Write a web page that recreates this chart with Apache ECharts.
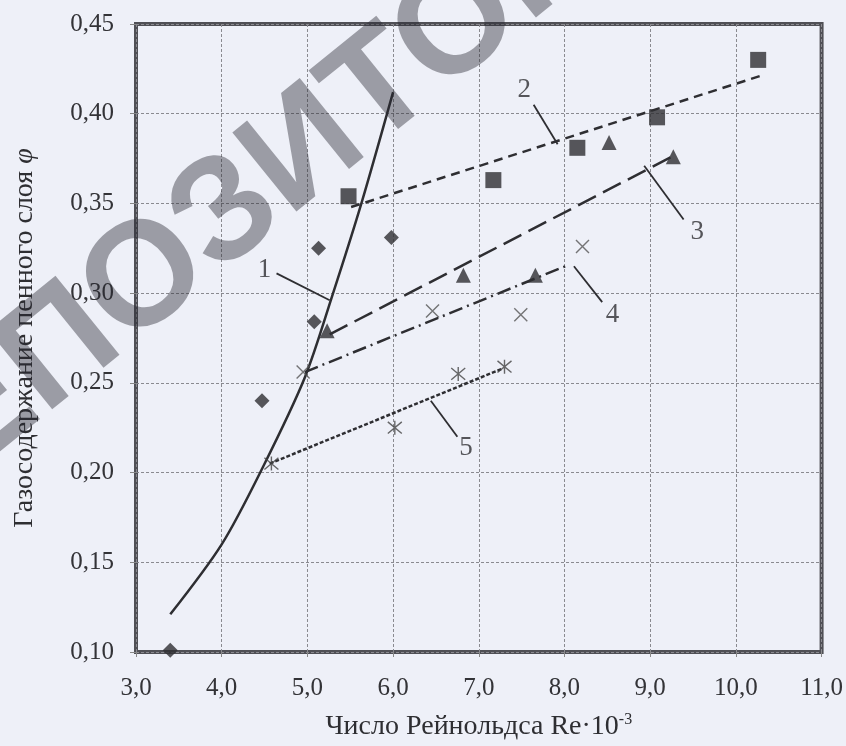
<!DOCTYPE html>
<html>
<head>
<meta charset="utf-8">
<script src="https://cdn.jsdelivr.net/npm/echarts@6/dist/echarts.min.js"></script>
<style>
  html, body { margin: 0; padding: 0; background: #eef0f8; }
  #chart { width: 846px; height: 746px; }
</style>
</head>
<body>
<div id="chart"></div>
<script>
// Re*10^-3 and phi
var diamonds = [[3.40, 0.101], [4.47, 0.240], [5.08, 0.284], [5.13, 0.325], [5.98, 0.331]];
var squares = [[5.48, 0.354], [7.17, 0.363], [8.15, 0.381], [9.08, 0.398], [10.26, 0.430]];
var triangles = [[5.23, 0.279], [6.82, 0.310], [7.66, 0.310], [8.52, 0.384], [9.27, 0.376]];
var crosses = [[4.95, 0.256], [6.46, 0.290], [7.49, 0.288], [8.21, 0.326]];
var stars = [[4.58, 0.205], [6.02, 0.225], [6.76, 0.255], [7.30, 0.259]];

// fitted curves
var curve1 = [[3.40, 0.121], [4.00, 0.160], [4.48, 0.203], [4.97, 0.253], [5.30, 0.300], [5.63, 0.350], [6.00, 0.412]];
var line2 = [[5.51, 0.348], [10.28, 0.421]];
var line3 = [[5.26, 0.277], [9.25, 0.376]];
var line4 = [[4.97, 0.256], [8.01, 0.315]];
var line5 = [[4.56, 0.205], [7.28, 0.258]];

// callouts: label, text position, leader start, leader end
var callouts = [
  ['1', [4.50, 0.313], [4.64, 0.311], [5.26, 0.296]],
  ['2', [7.53, 0.413], [7.64, 0.405], [7.92, 0.383]],
  ['3', [9.55, 0.334], [9.39, 0.341], [8.93, 0.371]],
  ['4', [8.56, 0.288], [8.44, 0.295], [8.11, 0.315]],
  ['5', [6.85, 0.214], [6.75, 0.220], [6.44, 0.240]]
];

var xTicks = [3, 11, 1];
var yTicks = [0.10, 0.45, 0.05];

var ink = '#2e2e32';
var serif = '"Liberation Serif", "DejaVu Serif", serif';

var chart = echarts.init(document.getElementById('chart'));

function fitLine(data, dash) {
  return {
    type: 'line', data: data, symbol: 'none', z: 3,
    lineStyle: { color: ink, width: 2.5, type: dash }
  };
}

var series = [
  { type: 'line', data: curve1, symbol: 'none', smooth: 0.3, z: 3,
    lineStyle: { color: ink, width: 2.5 } },
  fitLine(line2, [9, 6]),
  fitLine(line3, [20, 8]),
  fitLine(line4, [14, 5, 2, 5]),
  fitLine(line5, [4, 2]),
  { type: 'scatter', data: diamonds, symbol: 'diamond', symbolSize: 15, z: 4,
    itemStyle: { color: ink } },
  { type: 'scatter', data: squares, symbol: 'rect', symbolSize: 16, z: 4,
    itemStyle: { color: ink } },
  { type: 'scatter', data: triangles, symbol: 'triangle', symbolSize: 15, z: 4,
    itemStyle: { color: ink } },
  { type: 'scatter', data: crosses, symbol: 'path://M0,0L10,10M10,0L0,10', symbolSize: 13, z: 4,
    itemStyle: { color: 'none', borderColor: '#555', borderWidth: 1.4 } },
  { type: 'scatter', data: stars, symbol: 'path://M0,0L10,10M10,0L0,10M5,-1L5,11', symbolSize: 14, z: 4,
    itemStyle: { color: 'none', borderColor: '#444', borderWidth: 1.4 } }
];

callouts.forEach(function (c) {
  series.push({
    type: 'line', data: [c[2], c[3]], symbol: 'none', z: 3,
    lineStyle: { color: ink, width: 1.8 }
  });
  series.push({
    type: 'scatter', data: [c[1]], symbolSize: 0, z: 5,
    label: { show: true, position: 'inside', formatter: c[0],
      fontFamily: serif, fontSize: 27, color: ink }
  });
});

function comma(v, d) { return v.toFixed(d).replace('.', ','); }

var option = {
  backgroundColor: '#eef0f8',
  animation: false,
  grid: { left: 136, right: 23, top: 24, bottom: 91,
    show: true, borderColor: '#505056', borderWidth: 4 },
  xAxis: {
    type: 'value', min: xTicks[0], max: xTicks[1], interval: xTicks[2],
    name: 'Число Рейнольдса Re·10{sup|-3}',
    nameLocation: 'middle', nameGap: 60,
    nameTextStyle: { fontFamily: serif, fontSize: 28, color: ink,
      rich: { sup: { fontFamily: serif, fontSize: 16, color: ink, verticalAlign: 'top', padding: [0, 0, 14, 0] } } },
    axisLine: { show: false },
    axisTick: { show: true, length: 5, lineStyle: { color: '#888' } },
    axisLabel: { margin: 24, fontFamily: serif, fontSize: 25, color: '#333337',
      formatter: function (v) { return comma(v, 1); } },
    splitLine: { show: true, lineStyle: { color: '#8a8a90', width: 1, type: [3, 2] } }
  },
  yAxis: {
    type: 'value', min: yTicks[0], max: yTicks[1], interval: yTicks[2],
    name: 'Газосодержание пенного слоя {i|φ}',
    nameLocation: 'middle', nameGap: 97, nameRotate: 90,
    nameTextStyle: { fontFamily: serif, fontSize: 28, color: ink,
      rich: { i: { fontFamily: serif, fontSize: 28, color: ink, fontStyle: 'italic' } } },
    axisLine: { show: false },
    axisTick: { show: true, length: 6, lineStyle: { color: '#888' } },
    axisLabel: { margin: 22, fontFamily: serif, fontSize: 25, color: '#333337',
      formatter: function (v) { return comma(v, 2); } },
    splitLine: { show: true, lineStyle: { color: '#8a8a90', width: 1, type: [3, 2] } }
  },
  graphic: [{
    type: 'text', x: 305, y: 152, rotation: 39 * Math.PI / 180, z: 100,
    style: { text: 'РЕПОЗИТОРИЙ', fontFamily: '"Liberation Sans", Arial, sans-serif',
      fontSize: 148, fontWeight: 'bold', fill: 'rgba(40,40,50,0.42)',
      align: 'center', verticalAlign: 'middle' }
  }],
  series: series
};

chart.setOption(option);
</script>
</body>
</html>
